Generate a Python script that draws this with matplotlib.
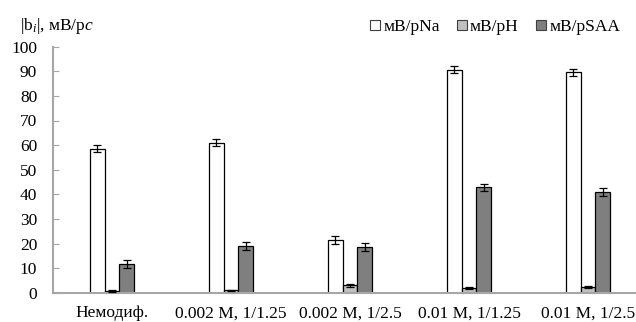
import matplotlib
matplotlib.use('Agg')
import matplotlib.pyplot as plt
import numpy as np

plt.rcParams['font.family'] = ['Liberation Serif', 'DejaVu Serif']
plt.rcParams['mathtext.fontset'] = 'custom'
plt.rcParams['mathtext.rm'] = 'Liberation Serif'
plt.rcParams['mathtext.it'] = 'Liberation Serif:italic'

categories = ['Немодиф.', '0.002 М, 1/1.25', '0.002 M, 1/2.5',
              '0.01 M, 1/1.25', '0.01 M, 1/2.5']
series = ['мВ/pNa', 'мВ/pH', 'мВ/pSAA']
na_vals = [58.5, 61.0, 21.5, 90.7, 89.6]
na_err = [1.5, 1.5, 1.5, 1.5, 1.5]
ph_vals = [0.7, 0.9, 3.0, 2.0, 2.4]
ph_err = [0.3, 0.4, 0.5, 0.5, 0.5]
saa_vals = [11.5, 19.0, 18.7, 42.8, 41.1]
saa_err = [1.6, 1.6, 1.6, 1.5, 1.6]

colors = ['white', '#c0c0c0', '#7f7f7f']
axis_col = '#a6a6a6'
fs = 12.5

fig = plt.figure(figsize=(6.36, 3.22), dpi=100)
ax = fig.add_axes([52.5 / 636, 29.3 / 322, 1 - 52.5 / 636, (292.7 - 46.7) / 322])

x = np.arange(len(categories))
w = 0.124
for i, (vals, errs) in enumerate([(na_vals, na_err), (ph_vals, ph_err), (saa_vals, saa_err)]):
    ax.bar(x + (i - 1) * w, vals, w, color=colors[i], edgecolor='black',
           linewidth=0.9, label=series[i], zorder=2)
    ax.errorbar(x + (i - 1) * w, vals, yerr=errs, fmt='none', ecolor='black',
                elinewidth=0.9, capsize=3, capthick=0.9, zorder=3)

ax.set_xlim(-0.5, -0.5 + 583.5 / 119)
ax.set_ylim(0, 100)
ax.set_yticks(range(0, 101, 10))
ax.set_xticks(x)
ax.set_xticklabels(categories, fontsize=fs)
ax.tick_params(axis='x', length=0, pad=9)
ax.tick_params(axis='y', direction='in', length=4, color=axis_col,
               labelsize=fs, pad=11)
for s in ['top', 'right']:
    ax.spines[s].set_visible(False)
for s in ['left', 'bottom']:
    ax.spines[s].set_color(axis_col)
    ax.spines[s].set_linewidth(1.5)

fig.text(20 / 636, 1 - 29.5 / 322, r'|b$_{\mathit{i}}$|, мВ/p$\mathit{c}$',
         fontsize=fs, va='baseline', ha='left')

leg = fig.legend(loc='center right', bbox_to_anchor=(627 / 636, 1 - 27 / 322),
                 ncol=3, frameon=False, fontsize=fs, handlelength=0.55,
                 handleheight=0.55, handletextpad=0.2, columnspacing=1.0,
                 borderaxespad=0)
for h in leg.legend_handles:
    h.set_edgecolor('#404040')
    h.set_linewidth(0.8)

fig.savefig('out.png', dpi=100)
